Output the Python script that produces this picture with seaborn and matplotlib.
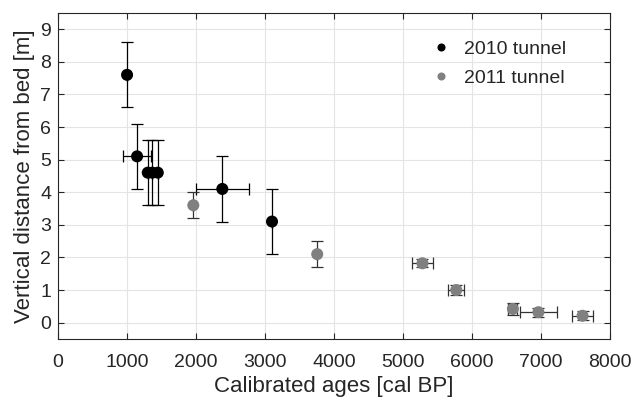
import numpy as np
import pandas as pd
import matplotlib
matplotlib.use("Agg")
import matplotlib.pyplot as plt
import seaborn as sns

# 2010 tunnel samples
age_2010 = [1000, 1145, 1300, 1365, 1445, 2380, 3100]
dist_2010 = [7.6, 5.1, 4.6, 4.6, 4.6, 4.1, 3.1]
xerr_2010 = [0, 200, 0, 0, 0, 380, 0]
yerr_2010 = [1.0, 1.0, 1.0, 1.0, 1.0, 1.0, 1.0]

# 2011 tunnel samples
age_2011 = [1960, 3755, 5280, 5770, 6590, 6960, 7600]
dist_2011 = [3.6, 2.1, 1.82, 1.0, 0.42, 0.32, 0.21]
xerr_2011 = [0, 0, 150, 115, 65, 265, 150]
yerr_2011 = [0.4, 0.4, 0.12, 0.15, 0.18, 0.14, 0.14]

df = pd.DataFrame({
    "age": age_2010 + age_2011,
    "dist": dist_2010 + dist_2011,
    "tunnel": ["2010 tunnel"] * len(age_2010) + ["2011 tunnel"] * len(age_2011),
})

sns.set_style("whitegrid")
plt.rcParams["font.family"] = ["Liberation Sans", "DejaVu Sans"]

fig = plt.figure(figsize=(6.31, 4.03), dpi=100)
ax = fig.add_axes([0.092, 0.159, 0.875, 0.809])

# error bars first, dots on top
ax.errorbar(age_2010, dist_2010, xerr=xerr_2010, yerr=yerr_2010, fmt="none",
            ecolor="black", elinewidth=0.9, capsize=4, capthick=0.9, zorder=2)
ax.errorbar(age_2011, dist_2011, xerr=xerr_2011, yerr=yerr_2011, fmt="none",
            ecolor="#333333", elinewidth=0.9, capsize=4, capthick=0.9, zorder=2)

sns.scatterplot(data=df, x="age", y="dist", hue="tunnel",
                palette={"2010 tunnel": "black", "2011 tunnel": "#808080"},
                s=75, edgecolor="none", ax=ax, zorder=3)

ax.set_xlim(0, 8000)
ax.set_ylim(-0.5, 9.5)
ax.set_xticks(np.arange(0, 8001, 1000))
ax.set_yticks(np.arange(0, 10, 1))
ax.set_xlabel("Calibrated ages [cal BP]", fontsize=16, color="#262626", labelpad=4)
ax.set_ylabel("Vertical distance from bed [m]", fontsize=16, color="#262626", labelpad=4)
ax.tick_params(axis="both", labelsize=14, colors="#262626", direction="in",
               length=4, width=0.8, top=True, right=True, bottom=True, left=True)
ax.tick_params(axis="x", pad=10.5)
ax.tick_params(axis="y", pad=5)
ax.grid(True, color="#e4e4e4", linewidth=0.8)
for sp in ax.spines.values():
    sp.set_visible(True)
    sp.set_color("#262626")
    sp.set_linewidth(0.8)

leg = ax.legend(loc="upper left", bbox_to_anchor=(0.676, 0.915), frameon=False,
                fontsize=14, borderpad=0, borderaxespad=0, handlelength=1.0,
                handletextpad=0.7, labelspacing=0.55, markerscale=0.67)

fig.savefig("out.png", dpi=100)
